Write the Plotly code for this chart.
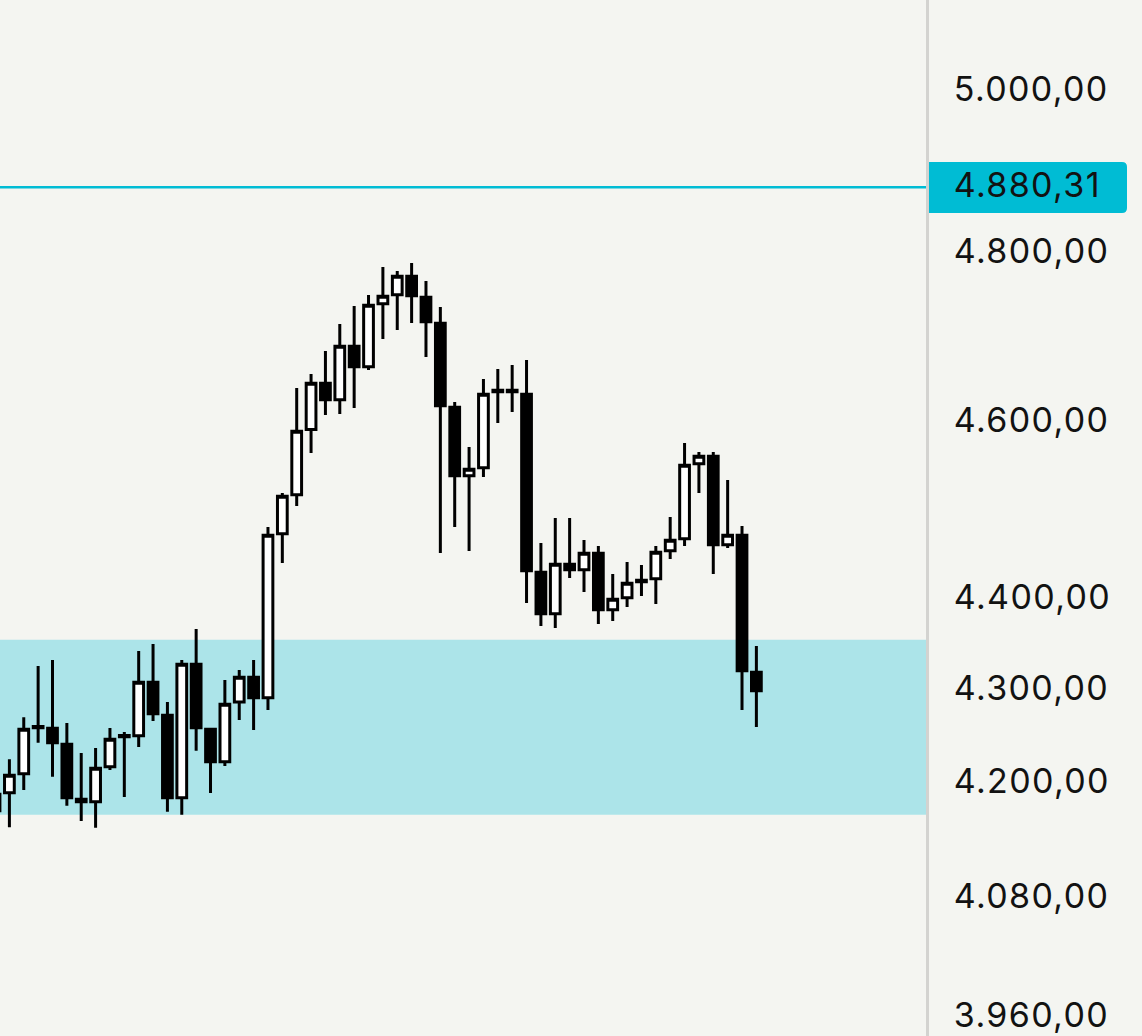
import math
import plotly.graph_objects as go

candle_index = list(range(-1, 53))
opens = [4171, 4190.1, 4210.2, 4260.7, 4258.8, 4241.6, 4183.3, 4180.6, 4217.7, 4249.6, 4250.7,
         4308.3, 4272.7, 4184.9, 4327.9, 4257.7, 4223, 4286.9, 4313.7, 4291.5, 4472.5,
         4516.7, 4591.5, 4645.3, 4626, 4688.7, 4664.6, 4739.2, 4750, 4772.1, 4746.9,
         4716, 4617.3, 4538.3, 4547.4, 4637.1, 4637.1, 4632.4, 4429.3, 4383.3, 4438.2,
         4432.1, 4450.5, 4387.7, 4400.9, 4420.5, 4422.1, 4453.3, 4466.8, 4552, 4560.6,
         4460.1, 4470.8, 4319.2]
highs = [4193, 4225.6, 4270.5, 4326, 4332.6, 4264.4, 4232.3, 4237.6, 4259, 4254.7, 4342.4,
         4350, 4286.9, 4332.6, 4366.5, 4257.7, 4310.7, 4321.7, 4332.6, 4480.2, 4518.7,
         4639.7, 4656.1, 4683.1, 4715.1, 4736.5, 4749.6, 4783.3, 4778.4, 4788, 4766.4,
         4735.3, 4623.4, 4571.3, 4650.2, 4662, 4666.7, 4672.6, 4462, 4490.3, 4490.3,
         4465.4, 4458.7, 4427.4, 4440.7, 4437.3, 4458.7, 4491.4, 4575.9, 4565.5, 4565.5,
         4533.5, 4481.2, 4347.8]
lows = [4168, 4153.9, 4193, 4243.3, 4207, 4176.3, 4160.5, 4153.2, 4214.2, 4185.7, 4238.7,
        4266.6, 4170, 4166.8, 4234.5, 4189.8, 4218.5, 4267.6, 4256.9, 4278.3, 4439.6,
        4503.9, 4564.4, 4608.3, 4609.4, 4616.4, 4660.8, 4697.3, 4708, 4716.3, 4676.1,
        4450.8, 4480.2, 4453, 4536.8, 4599, 4611.8, 4395.1, 4369.7, 4367.6, 4422.9,
        4407.3, 4371.9, 4375.2, 4390.7, 4402.9, 4394, 4444.1, 4458.7, 4518.7, 4427.4,
        4456.4, 4278.3, 4260.1]
closes = [4188.5, 4208.7, 4257.7, 4259.1, 4243.2, 4184.9, 4180.6, 4216.1, 4247, 4251, 4308.3,
          4274.4, 4184.9, 4327.9, 4259.3, 4223, 4284.5, 4313.7, 4291.5, 4470.8, 4515,
          4589.4, 4645.3, 4626, 4688.7, 4664.6, 4737.4, 4748.1, 4772.1, 4748.8, 4717.8,
          4619, 4538.3, 4545.7, 4632.4, 4635.3, 4635.3, 4431, 4383.3, 4438.2, 4432.1,
          4450.5, 4387.7, 4399.3, 4417, 4418.7, 4451.6, 4465.1, 4550.3, 4560.6, 4460.1,
          4470.8, 4320.8, 4299.1]

tick_values = [5000, 4880.31, 4800, 4600, 4400, 4300, 4200, 4080, 3960]
tick_labels = ["5.000,00", "4.880,31", "4.800,00", "4.600,00", "4.400,00",
               "4.300,00", "4.200,00", "4.080,00", "3.960,00"]
last_price = 4880.31
zone_low, zone_high = 4166.8, 4354.6

W, H = 1142, 1036
PLOT_R = 926
BG = "#f4f5f1"
ACCENT = "#00bcd4"
px_per_ln = 3971.0
y_top = 5000 * math.exp(91 / px_per_ln)
y_bottom = 5000 * math.exp(-(H - 91) / px_per_ln)
step = 14.365
x_first = 9.4

fig = go.Figure()
fig.add_trace(go.Candlestick(
    x=candle_index, open=opens, high=highs, low=lows, close=closes,
    whiskerwidth=0,
    increasing=dict(line=dict(color="#000000", width=3), fillcolor="#ffffff"),
    decreasing=dict(line=dict(color="#000000", width=3), fillcolor="#000000"),
    hoverinfo="skip", showlegend=False,
))

fig.add_shape(type="rect", xref="x domain", yref="y", x0=0, x1=1, y0=zone_low, y1=zone_high,
              fillcolor="#ace4e9", line_width=0, layer="below")
fig.add_shape(type="line", xref="x domain", yref="y", x0=0, x1=1, y0=last_price, y1=last_price,
              line=dict(color=ACCENT, width=2.5), layer="below")

# rounded price tag in the axis gutter
def fx(p):
    return p / W
def fy(p):
    return 1 - p / H
l, r, t, b, rad = 929, 1127, 162, 213, 5
path = (f"M {fx(l)} {fy(t)} L {fx(r-rad)} {fy(t)} Q {fx(r)} {fy(t)} {fx(r)} {fy(t+rad)} "
        f"L {fx(r)} {fy(b-rad)} Q {fx(r)} {fy(b)} {fx(r-rad)} {fy(b)} L {fx(l)} {fy(b)} Z")
fig.add_shape(type="path", xref="paper", yref="paper", path=path, fillcolor=ACCENT, line_width=0,
              layer="below")

fig.update_layout(
    width=W, height=H, autosize=False,
    margin=dict(l=0, r=0, t=0, b=0, pad=0, autoexpand=False),
    paper_bgcolor=BG, plot_bgcolor=BG,
    showlegend=False, hovermode=False,
    boxgap=0.03,
    font=dict(family="Inter", color="#121212"),
)
fig.update_xaxes(
    domain=[0, PLOT_R / W], range=[(0 - x_first) / step, (PLOT_R - x_first) / step],
    visible=False, rangeslider_visible=False, fixedrange=True,
)
fig.update_yaxes(
    type="log", side="right", anchor="x", automargin=False,
    range=[math.log10(y_bottom), math.log10(y_top)],
    tickmode="array", tickvals=tick_values, ticktext=tick_labels,
    tickfont=dict(family="Inter", size=34, color="#121212"),
    ticks="", ticklabelstandoff=18, ticklabelshift=-2, ticklabeloverflow="allow",
    showgrid=False, zeroline=False,
    showline=True, linecolor="#d3d3d0", linewidth=3, fixedrange=True,
)

fig.write_html("out.html", config={"displayModeBar": False},
               post_script="document.body.style.margin='0';document.body.style.overflow='hidden';"
                           "var s=document.createElement('style');"
                           "s.textContent='.ytick text{letter-spacing:1.35px}';"
                           "document.head.appendChild(s);")
